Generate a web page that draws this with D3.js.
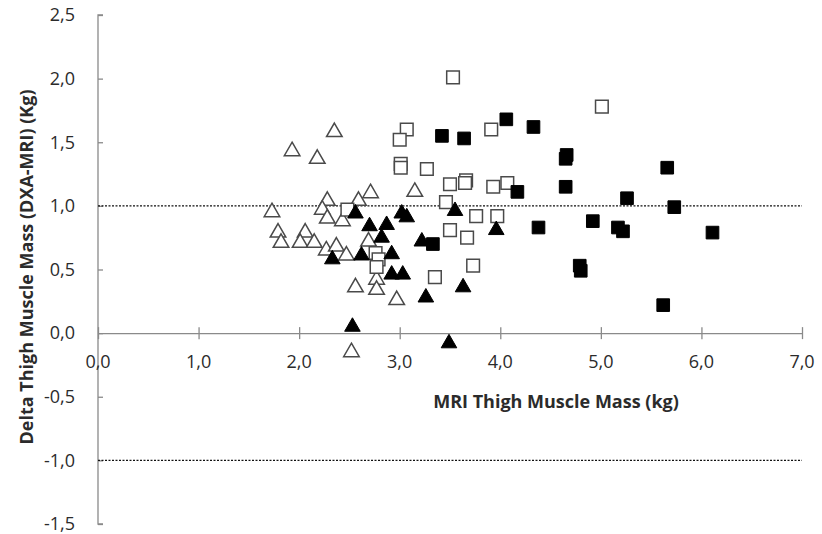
<!DOCTYPE html>
<html>
<head>
<meta charset="utf-8">
<script src="https://cdn.jsdelivr.net/npm/d3@7"></script>
<style>
  body { margin: 0; background: #fff; }
  text { font-family: "Open Sans", sans-serif; fill: #2b2b2b; }
</style>
</head>
<body>
<script>
const width = 822;
const height = 534;

// MRI thigh muscle mass (kg) vs delta DXA-MRI (kg), four groups
const openTriX = [2.35, 1.93, 2.18, 2.71, 3.15, 2.28, 2.59, 2.23, 1.73, 2.28, 2.43, 1.79, 2.06, 1.82, 2.01, 2.15, 2.27, 2.37, 2.47, 2.69, 2.77, 2.77, 2.56, 2.97, 2.52];
const openTriY = [1.58, 1.43, 1.37, 1.10, 1.11, 1.04, 1.04, 0.97, 0.95, 0.90, 0.88, 0.79, 0.79, 0.71, 0.71, 0.71, 0.65, 0.68, 0.61, 0.72, 0.42, 0.34, 0.36, 0.26, -0.15];

const fillTriX = [2.56, 3.02, 3.07, 2.70, 2.87, 2.82, 2.33, 2.62, 2.92, 2.92, 3.03, 2.53, 3.55, 3.96, 3.22, 3.63, 3.26, 3.49];
const fillTriY = [0.94, 0.94, 0.91, 0.84, 0.85, 0.75, 0.58, 0.61, 0.62, 0.46, 0.46, 0.05, 0.96, 0.81, 0.72, 0.36, 0.28, -0.08];

const openSqX = [3.53, 3.07, 3.00, 3.91, 3.01, 3.01, 3.27, 3.50, 3.66, 3.65, 3.93, 4.07, 3.46, 2.48, 3.76, 3.97, 3.50, 3.67, 3.73, 3.35, 2.76, 2.79, 2.77, 5.01];
const openSqY = [2.01, 1.60, 1.52, 1.60, 1.33, 1.30, 1.29, 1.17, 1.20, 1.18, 1.15, 1.18, 1.03, 0.97, 0.92, 0.92, 0.81, 0.75, 0.53, 0.44, 0.63, 0.58, 0.52, 1.78];

const fillSqX = [3.42, 3.64, 4.06, 4.33, 4.66, 4.65, 4.17, 4.65, 5.66, 5.26, 5.73, 4.92, 5.17, 5.22, 6.11, 4.38, 3.33, 4.79, 4.80, 5.62];
const fillSqY = [1.55, 1.53, 1.68, 1.62, 1.40, 1.37, 1.11, 1.15, 1.30, 1.06, 0.99, 0.88, 0.83, 0.80, 0.79, 0.83, 0.70, 0.53, 0.49, 0.22];

const xTicks = [0, 1, 2, 3, 4, 5, 6, 7];
const yTicks = [2.5, 2.0, 1.5, 1.0, 0.5, 0.0, -0.5, -1.0, -1.5];
const refLines = [1.0, -1.0];

const fmt = v => d3.format(".1f")(v).replace(".", ",").replace("−", "-");

const x = d3.scaleLinear().domain([0, 7]).range([98, 802]);
const y = d3.scaleLinear().domain([-1.5, 2.5]).range([524, 15]);

const svg = d3.select("body").append("svg")
  .attr("width", width)
  .attr("height", height);

// y axis (ticks pointing inward)
const yAxis = svg.append("g")
  .attr("transform", "translate(" + x(0) + ",0)")
  .call(d3.axisRight(y).tickValues(yTicks).tickSize(5).tickFormat(""));
yAxis.select(".domain").attr("d", "M5," + y(2.5) + "H0V" + y(-1.5) + "H5");

// x axis crossing at y = 0, ticks crossing the line
const xAxis = svg.append("g")
  .attr("transform", "translate(0," + y(0) + ")")
  .call(d3.axisBottom(x).tickValues(xTicks).tickSizeInner(6).tickSizeOuter(0).tickFormat(""));
xAxis.selectAll(".tick line").attr("y1", -6);

svg.selectAll(".domain, .tick line").attr("stroke", "#8a8a8a").attr("stroke-width", 1.3);

svg.append("g").selectAll("text")
  .data(yTicks)
  .join("text")
  .attr("x", 75)
  .attr("y", d => y(d))
  .attr("dy", "0.35em")
  .attr("text-anchor", "end")
  .style("font-size", "18px")
  .text(fmt);

svg.append("g").selectAll("text")
  .data(xTicks)
  .join("text")
  .attr("x", d => x(d))
  .attr("y", y(0) + 29)
  .attr("dy", "0.35em")
  .attr("text-anchor", "middle")
  .style("font-size", "18px")
  .text(fmt);

// dotted reference lines
svg.append("g").selectAll("line")
  .data(refLines)
  .join("line")
  .attr("x1", x(0))
  .attr("x2", x(7))
  .attr("y1", d => y(d))
  .attr("y2", d => y(d))
  .attr("stroke", "#111")
  .attr("stroke-width", 1.4)
  .attr("stroke-dasharray", "2,1.5");

const tri = d3.symbol().type(d3.symbolTriangle).size(105);
const sq = d3.symbol().type(d3.symbolSquare).size(160);

function drawGroup(xs, ys, shape, filled) {
  svg.append("g").selectAll("path")
    .data(xs.map((d, i) => [d, ys[i]]))
    .join("path")
    .attr("transform", d => "translate(" + x(d[0]) + "," + y(d[1]) + ")")
    .attr("d", shape)
    .attr("fill", filled ? "#000" : "#fff")
    .attr("stroke", filled ? "#000" : "#4a4a4a")
    .attr("stroke-width", filled ? 1 : 1.5);
}

drawGroup(openTriX, openTriY, tri, false);
drawGroup(openSqX, openSqY, sq, false);
drawGroup(fillTriX, fillTriY, tri, true);
drawGroup(fillSqX, fillSqY, sq, true);

// axis titles
svg.append("text")
  .attr("x", 556)
  .attr("y", 402)
  .attr("dy", "0.35em")
  .attr("text-anchor", "middle")
  .style("font-size", "18px")
  .style("font-weight", "bold")
  .text("MRI Thigh Muscle Mass (kg)");

svg.append("text")
  .attr("transform", "translate(27,267) rotate(-90)")
  .attr("dy", "0.35em")
  .attr("text-anchor", "middle")
  .style("font-size", "18px")
  .style("font-weight", "bold")
  .text("Delta Thigh Muscle Mass (DXA-MRI) (Kg)");
</script>
</body>
</html>
